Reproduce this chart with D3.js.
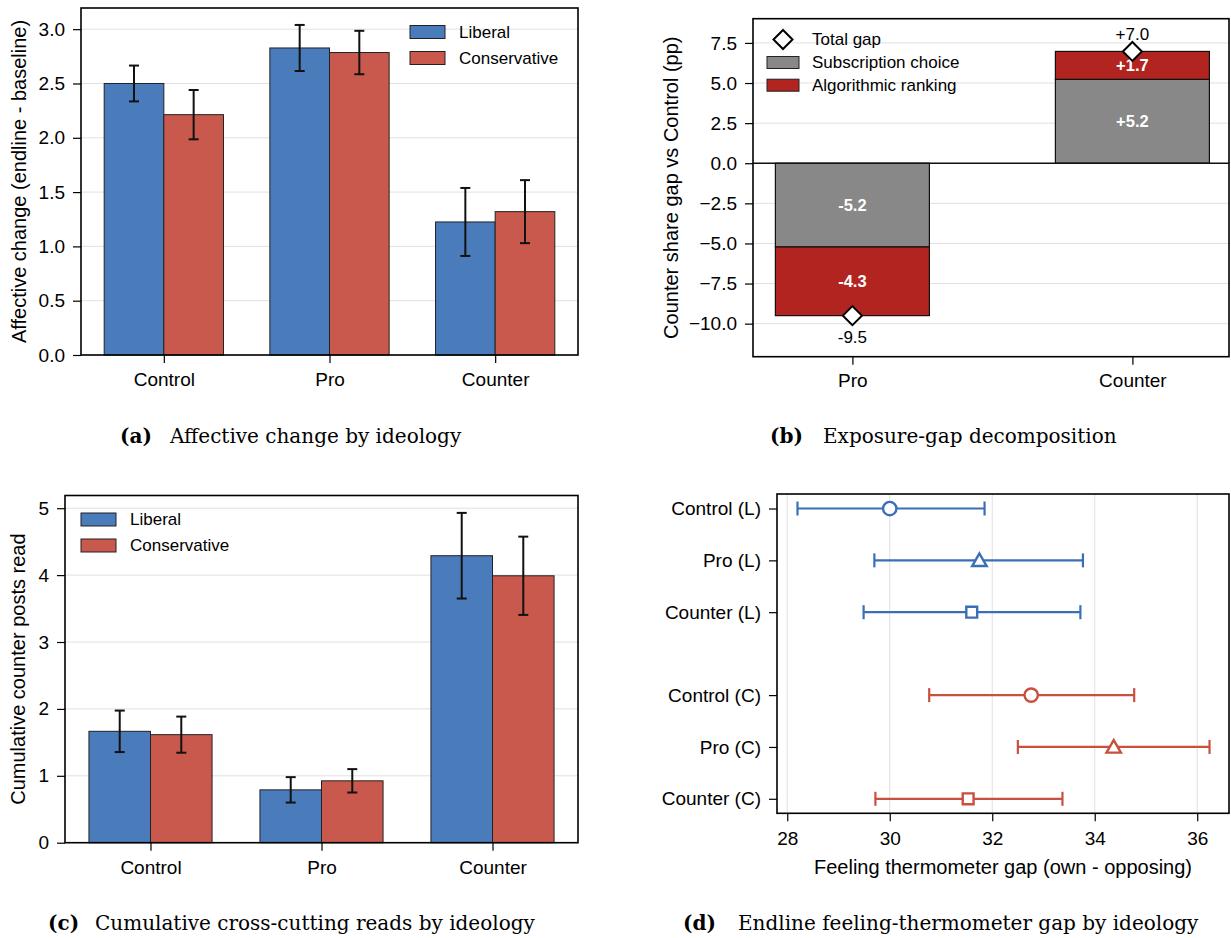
<!DOCTYPE html>
<html>
<head>
<meta charset="utf-8">
<script src="https://cdn.jsdelivr.net/npm/d3@7"></script>
<style>
  body { margin: 0; background: #fff; }
  svg { display: block; font-family: "Liberation Sans", Arial, sans-serif; }
</style>
</head>
<body>
<svg id="fig" width="1231" height="938"></svg>
<script>
// ---- data ----
const groups = ["Control", "Pro", "Counter"];

// (a) affective change
const affLib = [2.50, 2.827, 1.225];
const affLibErr = [0.165, 0.212, 0.313];
const affCon = [2.213, 2.785, 1.32];
const affConErr = [0.227, 0.200, 0.290];

// (b) exposure gap decomposition
const gapCats = ["Pro", "Counter"];
const subscription = [-5.22, 5.23];
const algorithmic = [-4.28, 1.74];

// (c) cumulative counter reads
const readsLib = [1.665, 0.79, 4.29];
const readsLibErr = [0.31, 0.19, 0.64];
const readsCon = [1.615, 0.925, 3.99];
const readsConErr = [0.27, 0.175, 0.585];

// (d) feeling thermometer
const rowLabels = ["Control (L)", "Pro (L)", "Counter (L)", "Control (C)", "Pro (C)", "Counter (C)"];
const rowPos = [0, 1, 2, 3.6, 4.6, 5.6];
const thermMean = [30.0, 31.75, 31.6, 32.76, 34.37, 31.53];
const thermLo = [28.2, 29.7, 29.49, 30.77, 32.5, 29.72];
const thermHi = [31.85, 33.77, 33.72, 34.77, 36.24, 33.37];
const rowShape = ["circle", "triangle", "square", "circle", "triangle", "square"];

const captions = [
  ["(a)", "Affective change by ideology"],
  ["(b)", "Exposure-gap decomposition"],
  ["(c)", "Cumulative cross-cutting reads by ideology"],
  ["(d)", "Endline feeling-thermometer gap by ideology"]
];

// ---- style ----
const BLUE = "#4a7bbb", RED = "#c8594c";
const GRAY = "#888888", DARKRED = "#b2241f";
const DBLUE = "#3a6fb8", DRED = "#c8503f";
const GRID = "#e0e0e0";
const TICK_FS = 19, LABEL_FS = 20, LEG_FS = 17;

const svg = d3.select("#fig");

function styleAxis(g) {
  g.select(".domain").remove();
  g.selectAll(".tick line").attr("stroke", "#000").attr("stroke-width", 1.2);
  g.selectAll(".tick text").attr("font-size", TICK_FS).attr("fill", "#000")
    .attr("font-family", "'Liberation Sans', Arial, sans-serif");
}

function frame(g, box) {
  g.append("rect")
    .attr("x", box.l).attr("y", box.t)
    .attr("width", box.r - box.l).attr("height", box.b - box.t)
    .attr("fill", "none").attr("stroke", "#000").attr("stroke-width", 1.6);
}

function yLabel(g, text, x, box) {
  g.append("text")
    .attr("transform", `translate(${x},${(box.t + box.b) / 2}) rotate(-90)`)
    .attr("text-anchor", "middle").attr("dominant-baseline", "central")
    .attr("font-size", LABEL_FS).text(text);
}

function patchLegend(g, items, x, y0, dy) {
  items.forEach((it, i) => {
    const yc = y0 + i * dy;
    g.append("rect").attr("x", x).attr("y", yc - 6.5).attr("width", 35).attr("height", 13)
      .attr("fill", it.color).attr("stroke", "#222").attr("stroke-width", 1);
    g.append("text").attr("x", x + 49).attr("y", yc).attr("dominant-baseline", "central")
      .attr("font-size", LEG_FS).text(it.label);
  });
}

// grouped bar chart with error bars (panels a, c)
function groupedBars(box, ymax, yTicks, fmt, lib, libErr, con, conErr, label, labelX, legendAt) {
  const g = svg.append("g");
  const x = d3.scaleLinear().domain([-0.5, 2.5]).range([box.l, box.r]);
  const y = d3.scaleLinear().domain([0, ymax]).range([box.b, box.t]);
  const w = 0.36;

  g.selectAll(".grid").data(yTicks).join("line")
    .attr("x1", box.l).attr("x2", box.r)
    .attr("y1", d => y(d)).attr("y2", d => y(d))
    .attr("stroke", GRID).attr("stroke-width", 1);

  const series = [
    { vals: lib, errs: libErr, color: BLUE, off: -w },
    { vals: con, errs: conErr, color: RED, off: 0 }
  ];
  series.forEach(s => {
    g.selectAll(null).data(s.vals).join("rect")
      .attr("x", (d, i) => x(i + s.off))
      .attr("width", x(w) - x(0))
      .attr("y", d => y(d))
      .attr("height", d => y(0) - y(d))
      .attr("fill", s.color).attr("stroke", "#222").attr("stroke-width", 1);
  });
  series.forEach(s => {
    const eb = g.selectAll(null).data(s.vals).join("g")
      .attr("transform", (d, i) => `translate(${x(i + s.off + w / 2)},0)`);
    eb.append("line").attr("y1", (d, i) => y(d - s.errs[i])).attr("y2", (d, i) => y(d + s.errs[i]))
      .attr("stroke", "#111").attr("stroke-width", 2);
    eb.append("line").attr("x1", -5).attr("x2", 5)
      .attr("y1", (d, i) => y(d - s.errs[i])).attr("y2", (d, i) => y(d - s.errs[i]))
      .attr("stroke", "#111").attr("stroke-width", 2);
    eb.append("line").attr("x1", -5).attr("x2", 5)
      .attr("y1", (d, i) => y(d + s.errs[i])).attr("y2", (d, i) => y(d + s.errs[i]))
      .attr("stroke", "#111").attr("stroke-width", 2);
  });

  g.append("g").attr("transform", `translate(${box.l},0)`)
    .call(d3.axisLeft(y).tickValues(yTicks).tickFormat(fmt).tickSize(8).tickPadding(8))
    .call(styleAxis);
  g.append("g").attr("transform", `translate(0,${box.b})`)
    .call(d3.axisBottom(x).tickValues([0, 1, 2]).tickFormat(i => groups[i]).tickSize(8).tickPadding(10))
    .call(styleAxis);
  frame(g, box);
  yLabel(g, label, labelX, box);
  patchLegend(g, [{ label: "Liberal", color: BLUE }, { label: "Conservative", color: RED }],
    legendAt[0], legendAt[1], 26);
}

// ---- panel (a) ----
groupedBars({ l: 81, r: 578, t: 8, b: 355 }, 3.195, d3.range(0, 3.01, 0.5), d3.format(".1f"),
  affLib, affLibErr, affCon, affConErr, "Affective change (endline - baseline)", 18.5, [410, 32]);

// ---- panel (c) ----
groupedBars({ l: 65, r: 578, t: 495.5, b: 842.7 }, 5.19, [0, 1, 2, 3, 4, 5], d3.format("d"),
  readsLib, readsLibErr, readsCon, readsConErr, "Cumulative counter posts read", 17.5, [81, 519.5]);

// ---- panel (b) ----
(function () {
  const box = { l: 753, r: 1229, t: 18.7, b: 356.7 };
  const g = svg.append("g");
  const x = d3.scaleLinear().domain([-0.355, 1.345]).range([box.l, box.r]);
  const y = d3.scaleLinear().domain([-12.06, 9.01]).range([box.b, box.t]);
  const yTicks = [-10, -7.5, -5, -2.5, 0, 2.5, 5, 7.5];
  const w = 0.55;
  const totals = subscription.map((d, i) => d + algorithmic[i]);
  const sgn = v => (v >= 0 ? "+" : "-") + Math.abs(v).toFixed(1);

  g.selectAll(null).data(yTicks).join("line")
    .attr("x1", box.l).attr("x2", box.r).attr("y1", d => y(d)).attr("y2", d => y(d))
    .attr("stroke", GRID).attr("stroke-width", 1);

  g.selectAll(null).data(subscription).join("rect")
    .attr("x", (d, i) => x(i - w / 2)).attr("width", x(w) - x(0))
    .attr("y", d => y(Math.max(0, d))).attr("height", d => Math.abs(y(d) - y(0)))
    .attr("fill", GRAY).attr("stroke", "#111").attr("stroke-width", 1.2);
  g.selectAll(null).data(algorithmic).join("rect")
    .attr("x", (d, i) => x(i - w / 2)).attr("width", x(w) - x(0))
    .attr("y", (d, i) => y(Math.max(subscription[i], subscription[i] + d)))
    .attr("height", d => Math.abs(y(d) - y(0)))
    .attr("fill", DARKRED).attr("stroke", "#111").attr("stroke-width", 1.2);

  g.append("line").attr("x1", box.l).attr("x2", box.r).attr("y1", y(0)).attr("y2", y(0))
    .attr("stroke", "#111").attr("stroke-width", 1.3);

  // segment labels
  g.selectAll(null).data(subscription).join("text")
    .attr("x", (d, i) => x(i)).attr("y", d => y(d / 2))
    .attr("text-anchor", "middle").attr("dominant-baseline", "central")
    .attr("font-size", 16.5).attr("font-weight", "bold").attr("fill", "#fff").text(d => sgn(d));
  g.selectAll(null).data(algorithmic).join("text")
    .attr("x", (d, i) => x(i)).attr("y", (d, i) => y(subscription[i] + d / 2))
    .attr("text-anchor", "middle").attr("dominant-baseline", "central")
    .attr("font-size", 16.5).attr("font-weight", "bold").attr("fill", "#fff").text(d => sgn(d));

  const diamond = d3.symbol().type(d3.symbolDiamond2).size(230);
  g.selectAll(null).data(totals).join("path")
    .attr("transform", (d, i) => `translate(${x(i)},${y(d)})`)
    .attr("d", diamond).attr("fill", "#fff").attr("stroke", "#000").attr("stroke-width", 2);
  g.selectAll(null).data(totals).join("text")
    .attr("x", (d, i) => x(i)).attr("y", d => y(d) + (d >= 0 ? -17 : 22))
    .attr("text-anchor", "middle").attr("dominant-baseline", "central")
    .attr("font-size", 17).text(d => sgn(d));

  g.append("g").attr("transform", `translate(${box.l},0)`)
    .call(d3.axisLeft(y).tickValues(yTicks).tickFormat(d3.format(".1f")).tickSize(8).tickPadding(8))
    .call(styleAxis);
  g.append("g").attr("transform", `translate(0,${box.b})`)
    .call(d3.axisBottom(x).tickValues([0, 1]).tickFormat(i => gapCats[i]).tickSize(8).tickPadding(9))
    .call(styleAxis);
  frame(g, box);
  yLabel(g, "Counter share gap vs Control (pp)", 670.7, box);

  // legend
  g.append("path").attr("transform", `translate(783,39.5)`).attr("d", diamond)
    .attr("fill", "#fff").attr("stroke", "#000").attr("stroke-width", 2);
  g.append("text").attr("x", 812).attr("y", 39.5).attr("dominant-baseline", "central")
    .attr("font-size", LEG_FS).text("Total gap");
  const items = [{ label: "Subscription choice", color: GRAY }, { label: "Algorithmic ranking", color: DARKRED }];
  items.forEach((it, i) => {
    const yc = 62.5 + i * 22.7;
    g.append("rect").attr("x", 767).attr("y", yc - 6).attr("width", 32).attr("height", 12)
      .attr("fill", it.color).attr("stroke", "#222").attr("stroke-width", 1);
    g.append("text").attr("x", 812).attr("y", yc).attr("dominant-baseline", "central")
      .attr("font-size", LEG_FS).text(it.label);
  });
})();

// ---- panel (d) ----
(function () {
  const box = { l: 777, r: 1229, t: 494, b: 813.3 };
  const g = svg.append("g");
  const x = d3.scaleLinear().domain([27.8, 36.62]).range([box.l, box.r]);
  const y = d3.scaleLinear().domain([-0.28, 5.88]).range([box.t, box.b]);
  const xTicks = [28, 30, 32, 34, 36];

  g.selectAll(null).data(xTicks).join("line")
    .attr("x1", d => x(d)).attr("x2", d => x(d)).attr("y1", box.t).attr("y2", box.b)
    .attr("stroke", GRID).attr("stroke-width", 1);

  const rows = rowLabels.map((lab, i) => ({
    lab, pos: rowPos[i], m: thermMean[i], lo: thermLo[i], hi: thermHi[i],
    shape: rowShape[i], color: i < 3 ? DBLUE : DRED
  }));

  const rg = g.selectAll(null).data(rows).join("g")
    .attr("transform", d => `translate(0,${y(d.pos)})`);
  rg.append("line").attr("x1", d => x(d.lo)).attr("x2", d => x(d.hi))
    .attr("stroke", d => d.color).attr("stroke-width", 2.2);
  rg.append("line").attr("x1", d => x(d.lo)).attr("x2", d => x(d.lo)).attr("y1", -7).attr("y2", 7)
    .attr("stroke", d => d.color).attr("stroke-width", 2.2);
  rg.append("line").attr("x1", d => x(d.hi)).attr("x2", d => x(d.hi)).attr("y1", -7).attr("y2", 7)
    .attr("stroke", d => d.color).attr("stroke-width", 2.2);
  const sym = { circle: d3.symbolCircle, triangle: d3.symbolTriangle2, square: d3.symbolSquare2 };
  const sz = { circle: 140, triangle: 150, square: 150 };
  rg.append("path")
    .attr("transform", d => `translate(${x(d.m)},${d.shape === "triangle" ? 1.5 : 0})`)
    .attr("d", d => d3.symbol().type(sym[d.shape]).size(sz[d.shape])())
    .attr("fill", "#fff").attr("stroke", d => d.color).attr("stroke-width", 2.4);

  g.append("g").attr("transform", `translate(${box.l},0)`)
    .call(d3.axisLeft(y).tickValues(rowPos).tickFormat((d, i) => rowLabels[i]).tickSize(8).tickPadding(8))
    .call(styleAxis);
  g.append("g").attr("transform", `translate(0,${box.b})`)
    .call(d3.axisBottom(x).tickValues(xTicks).tickFormat(d3.format("d")).tickSize(8).tickPadding(10))
    .call(styleAxis);
  frame(g, box);
  g.append("text").attr("x", (box.l + box.r) / 2).attr("y", 866.7)
    .attr("text-anchor", "middle").attr("dominant-baseline", "central")
    .attr("font-size", LABEL_FS).text("Feeling thermometer gap (own - opposing)");
})();

// ---- captions ----
const capPos = [[120, 170, 443], [770, 823, 443], [48, 95, 930], [683, 738, 930]];
captions.forEach((c, i) => {
  const [xa, xt, yb] = capPos[i];
  svg.append("text").attr("x", xa).attr("y", yb)
    .attr("font-family", "'DejaVu Serif', serif").attr("font-weight", "bold").attr("font-size", 20)
    .text(c[0]);
  svg.append("text").attr("x", xt).attr("y", yb)
    .attr("font-family", "'DejaVu Serif', serif").attr("font-size", 20)
    .text(c[1]);
});
</script>
</body>
</html>
